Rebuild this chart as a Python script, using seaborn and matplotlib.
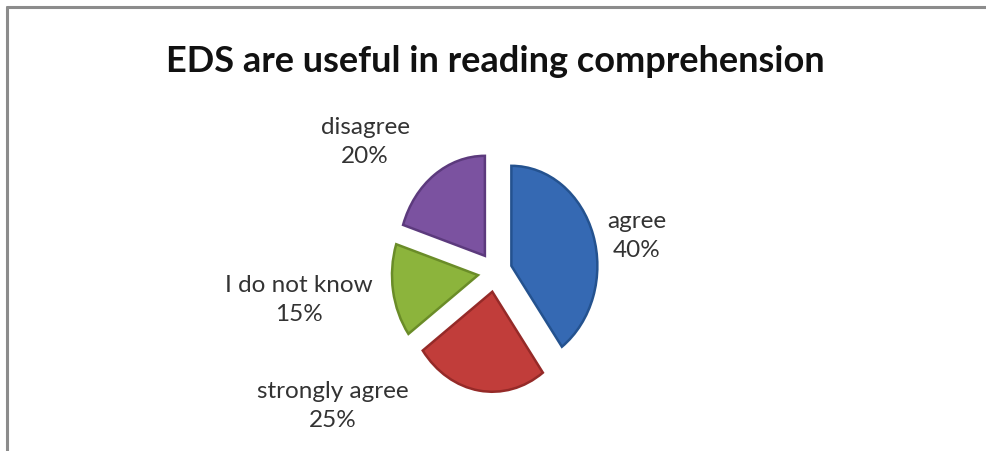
import matplotlib
matplotlib.use("Agg")
import matplotlib.pyplot as plt
from matplotlib.lines import Line2D
import seaborn as sns

# Survey responses
categories = ["agree", "strongly agree", "I do not know", "disagree"]
shares = [40, 25, 15, 20]
title = "EDS are useful in reading comprehension"

sns.set_theme(style="white")
plt.rcParams["font.family"] = ["Lato", "DejaVu Sans"]

colors = ["#3569b3", "#c13d3a", "#8cb43c", "#7b52a0"]
edges = ["#24528f", "#952a28", "#6a8c28", "#5c3a7d"]

W, H = 986, 451
fig = plt.figure(figsize=(W / 100, H / 100), dpi=100)
fig.patch.set_facecolor("white")

# pie axes: centre and radius in pixels, slightly narrower than tall
cx, cy, r = 495, 272, 100
squash = 0.86
lim = 1.35
ah = 2 * lim * r
aw = ah * squash
ax = fig.add_axes([(cx - aw / 2) / W, (H - cy - ah / 2) / H, aw / W, ah / H])

wedges, _ = ax.pie(
    shares,
    colors=colors,
    startangle=90,
    counterclock=False,
    explode=[0.2] * len(shares),
    wedgeprops=dict(linewidth=1.8),
)
for w, ec in zip(wedges, edges):
    w.set_edgecolor(ec)
ax.set_aspect("auto")
ax.set_xlim(-lim, lim)
ax.set_ylim(-lim, lim)
ax.axis("off")

fig.text(495 / W, 1 - 62 / H, title, ha="center", va="center",
         fontsize=26, fontweight="bold", color="#111111")

# slice labels (pixel centres)
label_pos = [(637, 236), (333, 406), (299, 300), (365, 142)]
for (x, y), name, v in zip(label_pos, categories, shares):
    fig.text(x / W, 1 - y / H, f"{name}\n{v}%", ha="center", va="center",
             fontsize=17.5, color="#333333", linespacing=1.45)

# border lines on top and left
fig.add_artist(Line2D([7 / W, 1], [1 - 7 / H, 1 - 7 / H], color="#8c8c8c", lw=2.2))
fig.add_artist(Line2D([7 / W, 7 / W], [0, 1 - 7 / H], color="#8c8c8c", lw=2.2))

fig.savefig("out.png", dpi=100, facecolor="white")
